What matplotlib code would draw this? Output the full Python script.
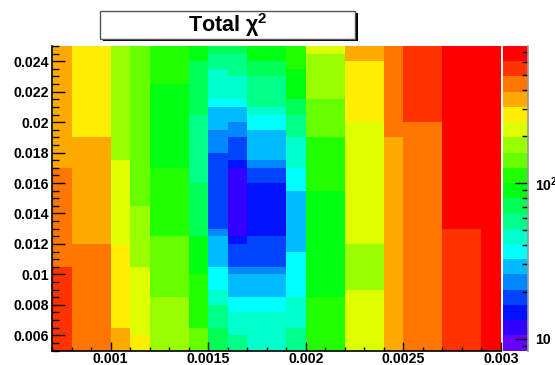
import numpy as np
import matplotlib
matplotlib.use('Agg')
import matplotlib.pyplot as plt
from matplotlib.colors import ListedColormap, LogNorm
from matplotlib.patches import Rectangle
from matplotlib.lines import Line2D
from matplotlib.ticker import MultipleLocator, FuncFormatter, FixedLocator, NullFormatter

plt.rcParams['font.family'] = ['Liberation Sans', 'DejaVu Sans']
plt.rcParams['font.weight'] = 'bold'
plt.rcParams['mathtext.fontset'] = 'custom'
plt.rcParams['mathtext.rm'] = 'Liberation Sans'
plt.rcParams['mathtext.bf'] = 'Liberation Sans:bold'
plt.rcParams['mathtext.it'] = 'Liberation Sans:italic'

# histogram binning (TH2 style): 23 bins in x, 40 bins in y
x_range = (0.0007, 0.003)
nx = 23
y_range = (0.005, 0.025)
ny = 40

# chi2 per x-bin, listed from bottom (y=0.005) to top (y=0.025)
chi2_columns = [
    [546]*11 + [435]*13 + [347]*16,
    [435]*14 + [347]*14 + [277]*12,
    [435]*14 + [347]*14 + [277]*12,
    [347]*3 + [277]*11 + [221]*11 + [176]*15,
    [277]*2 + [221]*9 + [176]*8 + [141]*21,
    [176]*7 + [141]*8 + [112]*9 + [90]*11 + [112]*5,
    [176]*7 + [141]*8 + [112]*9 + [90]*11 + [112]*5,
    [141]*3 + [112]*7 + [90]*5 + [72]*7 + [57]*9 + [72]*7 + [90]*2,
    [72]*3 + [57]*3 + [46]*2 + [36]*3 + [29]*4 + [23]*1 + [18]*10 + [23]*3 + [29]*3 + [36]*1 + [46]*4 + [57]*2 + [72]*1,
    [57]*2 + [46]*3 + [36]*2 + [29]*3 + [23]*1 + [18]*3 + [15]*1 + [12]*9 + [15]*1 + [18]*3 + [23]*2 + [29]*2 + [36]*1 + [46]*3 + [57]*3 + [72]*1,
    [46]*5 + [36]*2 + [29]*3 + [23]*1 + [18]*4 + [15]*7 + [18]*2 + [23]*1 + [29]*4 + [36]*2 + [46]*1 + [57]*4 + [72]*2 + [90]*2,
    [46]*5 + [36]*2 + [29]*3 + [23]*1 + [18]*4 + [15]*7 + [18]*2 + [23]*1 + [29]*4 + [36]*2 + [46]*1 + [57]*4 + [72]*2 + [90]*2,
    [57]*3 + [46]*4 + [36]*6 + [29]*8 + [36]*3 + [46]*4 + [57]*3 + [72]*2 + [90]*4 + [112]*3,
    [112]*7 + [90]*14 + [112]*7 + [141]*5 + [176]*6 + [221]*1,
    [112]*7 + [90]*14 + [112]*7 + [141]*5 + [176]*6 + [221]*1,
    [221]*8 + [176]*6 + [221]*16 + [277]*8 + [347]*2,
    [221]*8 + [176]*6 + [221]*16 + [277]*8 + [347]*2,
    [347]*28 + [435]*12,
    [435]*30 + [546]*10,
    [435]*30 + [546]*10,
    [546]*16 + [684]*24,
    [546]*16 + [684]*24,
    [684]*40,
]

z_min, z_max = 8.37, 765.0

# ROOT "pretty" palette, 20 contours (low -> high)
palette = ['#6600ff', '#3300ff', '#0011ff', '#0044ff', '#0088ff', '#00bbff',
           '#00ffff', '#00ffcc', '#00ff88', '#00ff55', '#00ff11', '#22ff00',
           '#66ff00', '#99ff00', '#ddff00', '#ffee00', '#ffaa00', '#ff7700',
           '#ff3300', '#ff0000']

x_edges = np.linspace(x_range[0], x_range[1], nx + 1)
y_edges = np.linspace(y_range[0], y_range[1], ny + 1)
z = np.array(chi2_columns, dtype=float).T

W, H = 555, 365
fig = plt.figure(figsize=(W / 100, H / 100), dpi=100)
ax = fig.add_axes([52 / W, (H - 350.5) / H, 449 / W, 304.5 / H])
cax = fig.add_axes([503 / W, (H - 350.5) / H, 25.3 / W, 304.5 / H])

cmap = ListedColormap(palette)
norm = LogNorm(vmin=z_min, vmax=z_max)
mesh = ax.pcolormesh(x_edges, y_edges, z, cmap=cmap, norm=norm, shading='flat')

ax.set_xlim(*x_range)
ax.set_ylim(*y_range)
fmt = FuncFormatter(lambda v, p: '%g' % round(v, 6))
ax.xaxis.set_major_locator(MultipleLocator(0.0005))
ax.xaxis.set_minor_locator(MultipleLocator(0.0001))
ax.yaxis.set_major_locator(MultipleLocator(0.002))
ax.yaxis.set_minor_locator(MultipleLocator(0.0005))
ax.xaxis.set_major_formatter(fmt)
ax.yaxis.set_major_formatter(fmt)
ax.tick_params(axis='x', which='major', direction='in', length=6.5, width=1, pad=1.2, labelsize=10.2)
ax.tick_params(axis='x', which='minor', direction='in', length=3.2, width=1)
ax.tick_params(axis='y', which='major', direction='in', length=9.7, width=1, pad=2.2, labelsize=10.2)
ax.tick_params(axis='y', which='minor', direction='in', length=4.8, width=1)
ax.spines['top'].set_visible(False)
ax.spines['right'].set_visible(False)
for s in ('left', 'bottom'):
    ax.spines[s].set_linewidth(1.2)

cb = fig.colorbar(mesh, cax=cax)
cb.outline.set_visible(False)
cax.add_line(Line2D([1, 1], [0, 1], transform=cax.transAxes, color='#999999', lw=1.2, clip_on=False))
cax.yaxis.set_major_locator(FixedLocator([10, 100]))
cax.yaxis.set_major_formatter(FuncFormatter(lambda v, p: '10' if v < 50 else r'$\mathbf{10^{2}}$'))
cax.yaxis.set_minor_locator(FixedLocator([9, 20, 30, 40, 50, 60, 70, 80, 90, 200, 300, 400, 500, 600, 700]))
cax.yaxis.set_minor_formatter(NullFormatter())
cax.tick_params(which='major', direction='in', length=9.1, width=1, right=True, left=False, pad=5, labelsize=10.2)
cax.tick_params(which='minor', direction='in', length=4.3, width=1, right=True, left=False)

# title box with shadow, ROOT style
bx, by, bw, bh = 100 / W, (H - 38.7) / H, 255 / W, 28 / H
fig.patches.append(Rectangle((bx + 2.5 / W, by - 2.5 / H), bw, bh, transform=fig.transFigure,
                             facecolor='black', edgecolor='black', lw=0))
fig.patches.append(Rectangle((bx, by), bw, bh, transform=fig.transFigure,
                             facecolor='white', edgecolor='#555555', lw=1))
fig.text(bx + bw / 2, by + bh / 2, r'Total $\mathrm{\chi}^{\mathbf{2}}$', ha='center', va='center',
         fontsize=15.5, fontweight='bold')

fig.savefig('out.png', dpi=100)
